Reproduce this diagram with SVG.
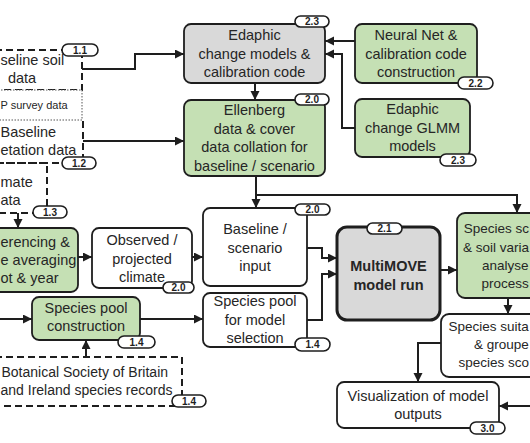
<svg xmlns="http://www.w3.org/2000/svg" width="530" height="443" viewBox="0 0 530 443">
<defs>
<marker id="ah" markerUnits="userSpaceOnUse" markerWidth="10" markerHeight="10" refX="9" refY="4.5" orient="auto">
<path d="M0,0 L9,4.5 L0,9 z" fill="#1e1e1e"/>
</marker>
</defs>
<style>
.box{stroke:#1e1e1e;stroke-width:1.8}
.green{fill:#c5e0b4}
.gray{fill:#d9d9d9}
.white{fill:#ffffff}
.dash{fill:none;stroke:#1e1e1e;stroke-width:2;stroke-dasharray:7 4}
.dot{fill:#ffffff;stroke:#555;stroke-width:1;stroke-dasharray:1.5 1.5}
text{font-family:"Liberation Sans",Arial,sans-serif;font-size:14.5px;fill:#262626}
.m{text-anchor:middle}
.e{text-anchor:end}
.r{font-size:13.5px}
.s14{font-size:14px}
.b rect{fill:#ffffff;stroke:#1e1e1e;stroke-width:1.6}
.b text{font-size:10px;font-weight:bold;text-anchor:middle;fill:#1e1e1e}
.conn path{fill:none;stroke:#1e1e1e;stroke-width:2;marker-end:url(#ah)}
</style>
<rect width="530" height="443" fill="#ffffff"/>

<g id="soil-data">
<path class="dash" d="M-5,50 H82 V90 H-5"/>
<text x="0.5" y="65">seline soil</text>
<text class="m" x="22" y="82.5">data</text>
<g class="b"><rect x="62" y="44" width="36" height="12" rx="6"/><text x="80" y="53.5">1.1</text></g>
</g>

<g id="survey-data">
<rect class="dot" x="-5" y="90" width="87" height="30"/>
<text x="0.5" y="109" style="font-size:11px">P survey data</text>
</g>

<g id="vegetation-data">
<path class="dash" d="M83,121 V163 H-5"/>
<text x="0.5" y="137">Baseline</text>
<text x="0.5" y="155">etation data</text>
<g class="b"><rect x="62" y="157" width="34" height="12" rx="6"/><text x="79" y="166.5">1.2</text></g>
</g>

<g id="climate-data">
<path class="dash" d="M-5,163 H47 V213 H-5"/>
<text x="0.5" y="187">mate</text>
<text x="0.5" y="205">ata</text>
<g class="b"><rect x="33" y="206" width="34" height="12" rx="6"/><text x="50" y="215.5">1.3</text></g>
</g>

<g id="georeferencing">
<rect class="box green" x="-20" y="228" width="98" height="64" rx="7"/>
<text x="0.5" y="247">erencing &amp;</text>
<text x="0.5" y="265">e averaging</text>
<text x="0.5" y="283">ot &amp; year</text>
</g>

<g id="edaphic-change">
<rect class="box gray" x="184" y="24" width="141" height="59" rx="7"/>
<text class="m" x="254.5" y="40">Edaphic</text>
<text class="m" x="254.5" y="58.5">change models &amp;</text>
<text class="m" x="254.5" y="77">calibration code</text>
<g class="b"><rect x="295" y="16" width="34" height="11" rx="5.5"/><text x="312" y="25">2.3</text></g>
</g>

<g id="ellenberg">
<rect class="box green" x="184" y="100" width="141" height="76" rx="7"/>
<text class="m" x="254.5" y="115">Ellenberg</text>
<text class="m" x="254.5" y="133.5">data &amp; cover</text>
<text class="m" x="254.5" y="152">data collation for</text>
<text class="m" x="254.5" y="170.5">baseline / scenario</text>
<g class="b"><rect x="295" y="94" width="34" height="11" rx="5.5"/><text x="312" y="103">2.0</text></g>
</g>

<g id="neural-net">
<rect class="box green" x="355" y="24" width="122" height="59" rx="7"/>
<text class="m" x="416" y="40">Neural Net &amp;</text>
<text class="m" x="416" y="58.5">calibration code</text>
<text class="m" x="416" y="77">construction</text>
<g class="b"><rect x="458" y="77" width="35" height="12" rx="6"/><text x="475.5" y="86.5">2.2</text></g>
</g>

<g id="glmm">
<rect class="box green" x="355" y="99" width="115" height="58" rx="7"/>
<text class="m" x="412.5" y="114">Edaphic</text>
<text class="m" x="412.5" y="132.5">change GLMM</text>
<text class="m" x="412.5" y="151">models</text>
<g class="b"><rect x="440" y="154" width="36" height="12" rx="6"/><text x="458" y="163.5">2.3</text></g>
</g>

<g id="observed-climate">
<rect class="box white" x="92" y="228" width="100" height="60" rx="7"/>
<text class="m" x="142" y="245">Observed /</text>
<text class="m" x="142" y="263.5">projected</text>
<text class="m" x="142" y="282">climate</text>
<g class="b"><rect x="163" y="282" width="31" height="11" rx="5.5"/><text x="178.5" y="291">2.0</text></g>
</g>

<g id="baseline-input">
<rect class="box white" x="203" y="208" width="104" height="78" rx="7"/>
<text class="m" x="255" y="234">Baseline /</text>
<text class="m" x="255" y="252.5">scenario</text>
<text class="m" x="255" y="271">input</text>
<g class="b"><rect x="295" y="204" width="35" height="11" rx="5.5"/><text x="312.5" y="213">2.0</text></g>
</g>

<g id="species-pool-construction">
<rect class="box green" x="32" y="297" width="108" height="43" rx="7"/>
<text class="m" x="86" y="313">Species pool</text>
<text class="m" x="86" y="331">construction</text>
<g class="b"><rect x="118" y="336" width="37" height="12" rx="6"/><text x="136.5" y="345.5">1.4</text></g>
</g>

<g id="botanical-records">
<path class="dash" d="M-5,357 H182 V406 H-5"/>
<text class="s14" x="1.5" y="377">Botanical Society of Britain</text>
<text class="s14" x="0.5" y="395">and Ireland species records</text>
<g class="b"><rect x="172" y="395" width="34" height="12" rx="6"/><text x="189" y="404.5">1.4</text></g>
</g>

<g id="species-pool-selection">
<rect class="box white" x="203" y="293" width="104" height="54" rx="7"/>
<text class="m" x="255" y="306">Species pool</text>
<text class="m" x="255" y="324.5">for model</text>
<text class="m" x="255" y="343">selection</text>
<g class="b"><rect x="295" y="338" width="35" height="13" rx="6.5"/><text x="312.5" y="348">1.4</text></g>
</g>

<g id="multimove">
<rect x="337" y="227" width="103" height="93" rx="10" fill="#d9d9d9" stroke="#1e1e1e" stroke-width="3"/>
<text class="m" x="388.5" y="270.5" style="font-weight:bold">MultiMOVE</text>
<text class="m" x="388.5" y="290" style="font-weight:bold">model run</text>
<g class="b"><rect x="367" y="223" width="35" height="11" rx="5.5"/><text x="384.5" y="232">2.1</text></g>
</g>

<g id="species-scores">
<rect class="box green" x="457" y="213" width="90" height="85" rx="8"/>
<text class="r e" x="529" y="233">Species sc</text>
<text class="r e" x="529" y="251.5">&amp; soil varia</text>
<text class="r" x="482" y="270">analyse</text>
<text class="r" x="481.5" y="288">process</text>
</g>

<g id="species-suitability">
<rect class="box white" x="441" y="314" width="106" height="63" rx="8"/>
<text class="r" x="448.5" y="331">Species suita</text>
<text class="r" x="474" y="349">&amp; groupe</text>
<text class="r e" x="529" y="367">species sco</text>
</g>

<g id="visualization">
<rect class="box white" x="337" y="382" width="162" height="46" rx="7"/>
<text class="m" x="418" y="401">Visualization of model</text>
<text class="m" x="418" y="419">outputs</text>
<g class="b"><rect x="470" y="422" width="35" height="12" rx="6"/><text x="487.5" y="431.5">3.0</text></g>
</g>

<g id="connectors" class="conn">
<path d="M82,69 H135 V54 H184"/>
<path d="M83,141 H184"/>
<path d="M255,83 V100"/>
<path d="M355,41 H325"/>
<path d="M355,128 H342 V54 H325"/>
<path d="M256,176 V208"/>
<path d="M256,195 H517 V213"/>
<path d="M18,213 V228"/>
<path d="M78,257 H92"/>
<path d="M192,257 H203"/>
<path d="M0,319 H32"/>
<path d="M140,319 H203"/>
<path d="M86,357 V340"/>
<path d="M307,248 H322 V258 H337"/>
<path d="M307,320 H322 V274 H337"/>
<path d="M440,270 H457"/>
<path d="M508,298 V314"/>
<path d="M441,343 H418 V382"/>
<path d="M532,406 H499"/>
</g>
</svg>
